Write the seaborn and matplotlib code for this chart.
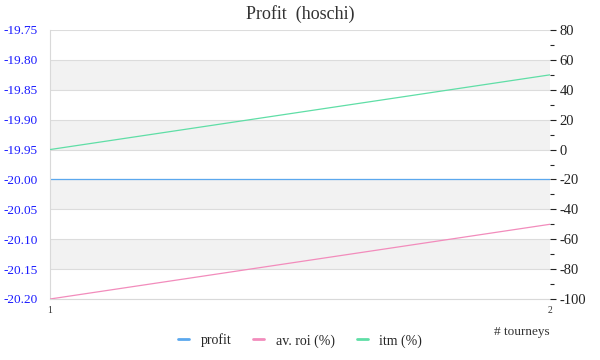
import numpy as np
import pandas as pd
import matplotlib.pyplot as plt
import seaborn as sns
from matplotlib.ticker import MultipleLocator

# data
tourneys = [1, 2]
profit = [-20.0, -20.0]
av_roi = [-100, -50]
itm = [0, 50]

left_ticks = [-20.20, -20.15, -20.10, -20.05, -20.00, -19.95, -19.90, -19.85, -19.80, -19.75]
right_ticks = [-100, -80, -60, -40, -20, 0, 20, 40, 60, 80]

df = pd.DataFrame({'tourneys': tourneys, 'profit': profit, 'roi': av_roi, 'itm': itm})

sns.set_style('white')
plt.rcParams['font.family'] = ['Liberation Serif', 'DejaVu Serif']

fig = plt.figure(figsize=(6, 3.6), dpi=100)
ax = fig.add_axes([50/600, 61/360, 500/600, 269/360])
ax2 = ax.twinx()

# alternating bands + grid
for i in range(len(left_ticks) - 1):
    if i % 2 == 1:
        ax.axhspan(left_ticks[i], left_ticks[i + 1], color='#f2f2f2', zorder=0, lw=0)
for t in left_ticks:
    ax.axhline(t, color='#dcdcdc', lw=0.8, zorder=0.5)

sns.lineplot(data=df, x='tourneys', y='profit', ax=ax, color='#5ba8ee', lw=0.9, label='profit', legend=False)
sns.lineplot(data=df, x='tourneys', y='roi', ax=ax2, color='#f28cbc', lw=0.9, label='av. roi (%)', legend=False)
sns.lineplot(data=df, x='tourneys', y='itm', ax=ax2, color='#5fdea6', lw=0.9, label='itm (%)', legend=False)

ax.set_xlim(1, 2)
ax.set_ylim(-20.20, -19.75)
ax.set_yticks(left_ticks)
ax.set_yticklabels([f'{t:.2f}' for t in left_ticks], color='#1a1aff', fontsize=9.5)
ax.tick_params(axis='y', length=0, pad=9)
ax.set_xticks(tourneys)
ax.set_xticklabels([str(t) for t in tourneys], fontsize=7, color='#333333')
ax.tick_params(axis='x', length=0, pad=5)
ax.set_xlabel('# tourneys', fontsize=9.5, color='#333333')
ax.xaxis.set_label_coords(1.0, -0.1)
ax.xaxis.label.set_horizontalalignment('right')
ax.set_ylabel('')

ax2.set_ylim(-100, 80)
ax2.set_yticks(right_ticks)
ax2.yaxis.set_minor_locator(MultipleLocator(10))
ax2.set_yticklabels([str(t) for t in right_ticks], fontsize=10.5, color='#222222')
ax2.tick_params(axis='y', which='major', length=4, width=0.8, color='#222222', direction='out', pad=3)
ax2.tick_params(axis='y', which='minor', length=3, width=0.8, color='#222222', direction='out')
ax2.set_ylabel('')
ax2.set_xlabel('')

for a in (ax, ax2):
    for s in a.spines.values():
        s.set_visible(False)
ax.spines['left'].set_visible(True)
ax.spines['left'].set_color('#d9d9d9')
ax.spines['bottom'].set_visible(True)
ax.spines['bottom'].set_color('#d9d9d9')

ax.set_title('Profit  (hoschi)', fontsize=13, color='#333333', pad=8)

h1, l1 = ax.get_legend_handles_labels()
h2, l2 = ax2.get_legend_handles_labels()
fig.legend(h1 + h2, l1 + l2, loc='lower center', bbox_to_anchor=(0.5, 0.0), ncol=3,
           frameon=False, fontsize=10, handlelength=0.8, columnspacing=1.6, handletextpad=0.8)
for leg_line in fig.legends[0].get_lines():
    leg_line.set_linewidth(2)

fig.savefig('out.png', dpi=100)
